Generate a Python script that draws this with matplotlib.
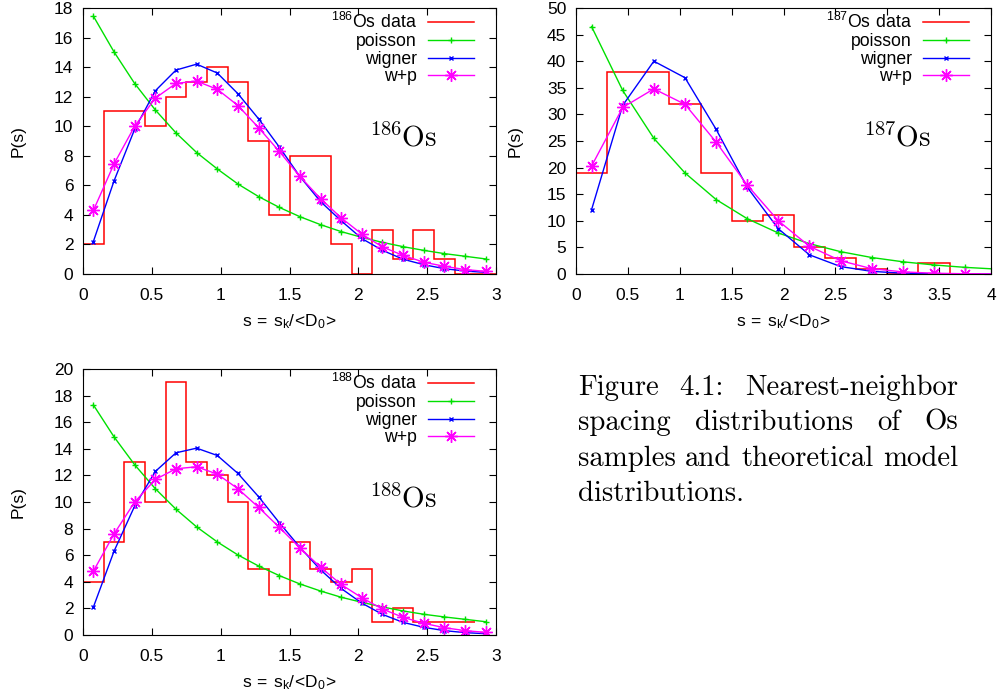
import numpy as np
import matplotlib
matplotlib.use('Agg')
import matplotlib.pyplot as plt

plt.rcParams['font.family'] = ['Liberation Sans', 'DejaVu Sans']
plt.rcParams['mathtext.fontset'] = 'custom'
plt.rcParams['mathtext.rm'] = 'cmr10'
plt.rcParams['mathtext.sf'] = 'Liberation Sans'

# ---- 186Os ----
edges_186 = [0, 0.15, 0.3, 0.45, 0.6, 0.75, 0.9, 1.05, 1.2, 1.35, 1.5, 1.65, 1.8,
             1.95, 2.1, 2.25, 2.4, 2.55, 2.7, 2.85, 3.0]
hist_186 = [2, 11, 11, 10, 12, 13, 14, 13, 9, 4, 8, 8, 2, 0, 3, 1, 3, 1, 0, 0]
s_186 = [0.075, 0.225, 0.375, 0.525, 0.675, 0.825, 0.975, 1.125, 1.275, 1.425,
         1.575, 1.725, 1.875, 2.025, 2.175, 2.325, 2.475, 2.625, 2.775, 2.925]
poisson_186 = [17.45, 15.03, 12.89, 11.1, 9.55, 8.22, 7.11, 6.09, 5.24, 4.51,
               3.88, 3.34, 2.87, 2.48, 2.14, 1.85, 1.6, 1.38, 1.2, 1.02]
wigner_186 = [2.2, 6.3, 9.8, 12.4, 13.8, 14.2, 13.6, 12.2, 10.5, 8.6,
              6.6, 4.9, 3.6, 2.4, 1.6, 1.0, 0.63, 0.36, 0.2, 0.11]
wp_186 = [4.3, 7.45, 10.0, 11.9, 12.9, 13.05, 12.5, 11.4, 9.9, 8.3,
          6.6, 5.1, 3.8, 2.7, 1.83, 1.26, 0.8, 0.52, 0.3, 0.18]

# ---- 187Os ----
edges_187 = [0, 0.3, 0.6, 0.9, 1.2, 1.5, 1.8, 2.1, 2.4, 2.7, 3.0, 3.3, 3.6, 3.9]
hist_187 = [19, 38, 38, 32, 19, 10, 11, 5, 3, 1, 0, 2, 0]
s_187 = [0.15, 0.45, 0.75, 1.05, 1.35, 1.65, 1.95, 2.25, 2.55, 2.85, 3.15, 3.45, 3.75, 4.05]
poisson_187 = [46.5, 34.5, 25.5, 19.0, 14.0, 10.4, 7.7, 5.7, 4.2, 3.1, 2.3, 1.7, 1.25, 0.93]
wigner_187 = [12.1, 31.7, 40.0, 36.9, 27.2, 16.3, 8.5, 3.6, 1.4, 0.5, 0.15, 0.05, 0.01, 0.0]
wp_187 = [20.3, 31.3, 34.8, 31.9, 24.8, 16.7, 10.0, 5.2, 2.5, 1.0, 0.4, 0.15, 0.05, 0.02]

# ---- 188Os ----
edges_188 = [0, 0.15, 0.3, 0.45, 0.6, 0.75, 0.9, 1.05, 1.2, 1.35, 1.5, 1.65, 1.8,
             1.95, 2.1, 2.25, 2.4, 2.55, 2.7, 2.85]
hist_188 = [4, 7, 13, 10, 19, 13, 12, 10, 5, 3, 7, 5, 4, 5, 1, 2, 1, 1, 1]
s_188 = s_186
poisson_188 = [17.3, 14.9, 12.8, 11.0, 9.46, 8.13, 7.0, 6.02, 5.19, 4.47,
               3.84, 3.31, 2.84, 2.46, 2.11, 1.81, 1.56, 1.36, 1.18, 1.0]
wigner_188 = [2.1, 6.3, 9.7, 12.3, 13.7, 14.05, 13.5, 12.15, 10.4, 8.45,
              6.6, 4.9, 3.5, 2.4, 1.55, 0.95, 0.58, 0.33, 0.18, 0.1]
wp_188 = [4.8, 7.6, 10.0, 11.7, 12.5, 12.65, 12.1, 11.0, 9.6, 8.1,
          6.55, 5.1, 3.8, 2.8, 1.95, 1.33, 0.88, 0.55, 0.33, 0.2]

caption_lines = ['Figure 4.1:  Nearest-neighbor',
                 'spacing distributions of Os',
                 'samples and theoretical model',
                 'distributions.']

RED, GREEN, BLUE, MAGENTA = '#ff0000', '#00e000', '#0000ff', '#ff00ff'
FS = 12.5

fig = plt.figure(figsize=(10.03, 6.96), dpi=100)


def panel(rect, edges, hist, s, poi, wig, wp, iso, xmax, ymax, ystep, xticks, ylab_x):
    ax = fig.add_axes(rect)
    styles = [dict(color=RED, lw=1.1),
              dict(color=GREEN, lw=1, marker='+', ms=4, mew=1),
              dict(color=BLUE, lw=1, marker='x', ms=3.5, mew=1),
              dict(color=MAGENTA, lw=1, marker=(8, 2, 0), ms=9, mew=1)]
    labels = [r'$\mathsf{^{%s}Os\ data}$' % iso, 'poisson', 'wigner', 'w+p']
    ax.stairs(hist, edges, baseline=None, **styles[0])
    ax.plot(s, poi, **styles[1])
    ax.plot(s, wig, **styles[2])
    ax.plot(s, wp, **styles[3])
    ax.set_xlim(0, xmax)
    ax.set_ylim(0, ymax)
    ax.set_xticks(xticks)
    ax.set_xticklabels([('%g' % t) for t in xticks])
    ax.set_yticks(np.arange(0, ymax + 0.1, ystep))
    ax.tick_params(direction='in', top=True, right=True, length=5, width=0.8,
                   labelsize=FS)
    ax.tick_params(axis='x', pad=10)
    ax.tick_params(axis='y', pad=7)
    for sp in ax.spines.values():
        sp.set_linewidth(0.8)
    ax.set_xlabel(r'$\mathsf{s\,=\,s_k/\!<\!D_0\!>}$', fontsize=FS)
    ax.xaxis.set_label_coords(0.5, -0.145)
    ax.set_ylabel('P(s)', fontsize=FS, va='center')
    ax.yaxis.set_label_coords(ylab_x, 0.5)

    # gnuplot-style key: right-justified text followed by a line sample
    h_px = rect[3] * fig.bbox.height
    w_px = rect[2] * fig.bbox.width
    x_txt = 1 - 79 / w_px
    x0, x1 = 1 - 68 / w_px, 1 - 22 / w_px
    for i, (lab, st) in enumerate(zip(labels, styles)):
        yl = 1 - (14 + 17.8 * i) / h_px
        yb = 1 - (20 + 17.8 * i) / h_px
        ax.text(x_txt, yb, lab, transform=ax.transAxes, ha='right',
                va='baseline', fontsize=12.7)
        ax.plot([x0, (x0 + x1) / 2, x1], [yl, yl, yl], transform=ax.transAxes,
                markevery=[1], clip_on=False, **st)

    ax.text(0.775, 0.51, r'$^{%s}\mathrm{Os}$' % iso, transform=ax.transAxes,
            fontsize=21, ha='center', va='center')
    return ax


panel([0.0828, 0.6063, 0.4118, 0.3822], edges_186, hist_186, s_186,
      poisson_186, wigner_186, wp_186, '186', 3, 18, 2,
      [0, 0.5, 1, 1.5, 2, 2.5, 3], -0.157)
panel([0.5743, 0.6063, 0.4138, 0.3822], edges_187, hist_187, s_187,
      poisson_187, wigner_187, wp_187, '187', 4, 50, 5,
      [0, 0.5, 1, 1.5, 2, 2.5, 3, 3.5, 4], -0.147)
panel([0.0828, 0.0876, 0.4118, 0.3822], edges_188, hist_188, s_188,
      poisson_188, wigner_188, wp_188, '188', 3, 20, 2,
      [0, 0.5, 1, 1.5, 2, 2.5, 3], -0.157)

# justified caption
W, H = fig.bbox.width, fig.bbox.height
cap_left, cap_right = 578, 958
baselines = [395, 430, 466, 501]
fig.canvas.draw()
renderer = fig.canvas.get_renderer()
cap_kw = dict(family='cmr10', fontsize=20.7, va='baseline', ha='left')
probe = fig.text(0, 0, '', **cap_kw)


def text_width(s):
    probe.set_text(s)
    return probe.get_window_extent(renderer).width


space_w = text_width('a a') - 2 * text_width('a')
for i, line in enumerate(caption_lines):
    words = line.split()
    widths = [text_width(w) for w in words]
    if i < len(caption_lines) - 1 and len(words) > 1:
        gap = (cap_right - cap_left - sum(widths)) / (len(words) - 1)
    else:
        gap = space_w
    x = cap_left
    for w, wd in zip(words, widths):
        fig.text(x / W, 1 - baselines[i] / H, w, **cap_kw)
        x += wd + gap
probe.remove()

fig.savefig('out.png', dpi=100)
